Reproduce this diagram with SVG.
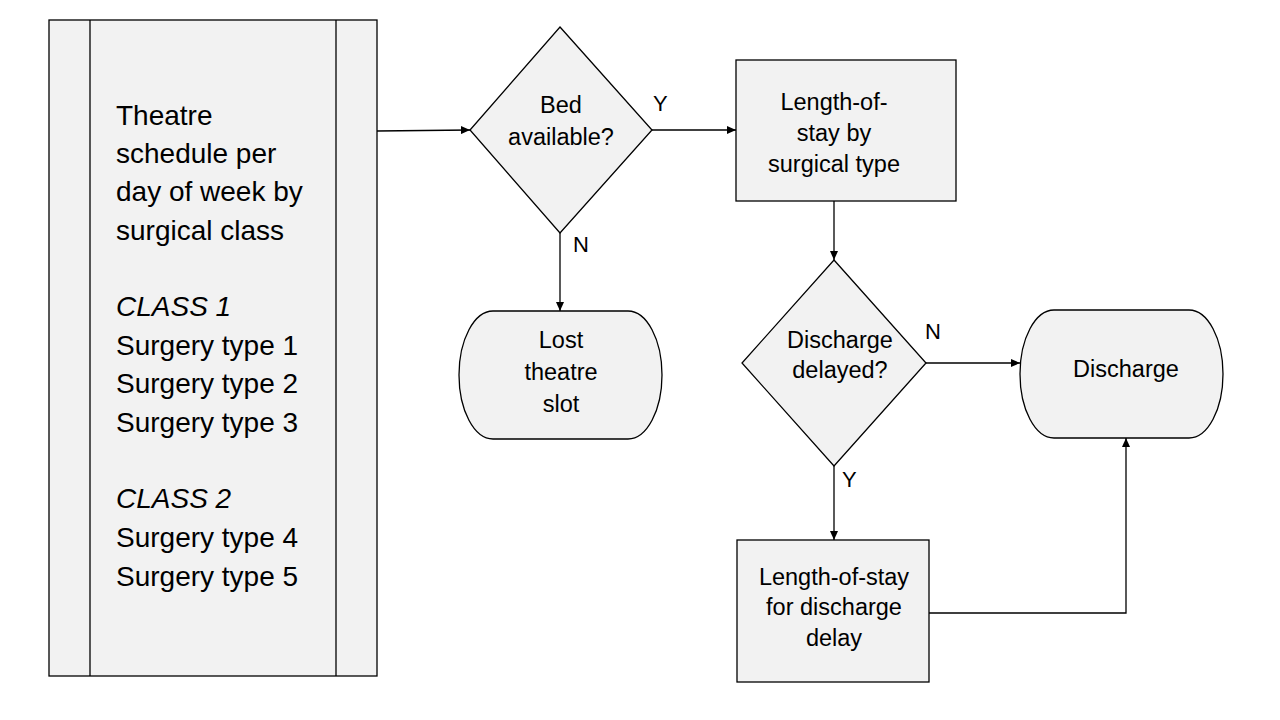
<svg xmlns="http://www.w3.org/2000/svg" width="1280" height="720" viewBox="0 0 1280 720">
<defs>
<marker id="arr" markerWidth="10" markerHeight="8" refX="9" refY="4" orient="auto" markerUnits="userSpaceOnUse">
<path d="M0,0 L9,4 L0,8 Z" fill="#000"/>
</marker>
<style>
.shape{fill:#f2f2f2;stroke:#000;stroke-width:1.3}
.ln{fill:none;stroke:#000;stroke-width:1.3}
.t{font-family:"Liberation Sans",Arial,sans-serif;font-size:23.5px;fill:#000;text-anchor:middle}
.big{font-family:"Liberation Sans",Arial,sans-serif;font-size:28px;fill:#000}
.lbl{font-family:"Liberation Sans",Arial,sans-serif;font-size:22px;fill:#000}
</style>
</defs>
<rect width="1280" height="720" fill="#fff"/>
<g id="schedule">
<rect class="shape" x="49" y="20" width="328" height="656"/>
<line class="ln" x1="90" y1="20" x2="90" y2="676"/>
<line class="ln" x1="336" y1="20" x2="336" y2="676"/>
<text class="big" x="116" y="125">Theatre</text>
<text class="big" x="116" y="163">schedule per</text>
<text class="big" x="116" y="201">day of week by</text>
<text class="big" x="116" y="240">surgical class</text>
<text class="big" x="116" y="316" font-style="italic">CLASS 1</text>
<text class="big" x="116" y="355">Surgery type 1</text>
<text class="big" x="116" y="393">Surgery type 2</text>
<text class="big" x="116" y="432">Surgery type 3</text>
<text class="big" x="116" y="508" font-style="italic">CLASS 2</text>
<text class="big" x="116" y="547">Surgery type 4</text>
<text class="big" x="116" y="586">Surgery type 5</text>
</g>
<g id="bed">
<polygon class="shape" points="560,27 652,130 560,233 470,130"/>
<text class="t" x="561" y="113">Bed</text>
<text class="t" x="561" y="145">available?</text>
</g>
<g id="los-type">
<rect class="shape" x="736" y="60" width="220" height="141"/>
<text class="t" x="834" y="110">Length-of-</text>
<text class="t" x="834" y="141">stay by</text>
<text class="t" x="834" y="172">surgical type</text>
</g>
<g id="lost">
<rect class="shape" x="459" y="311" width="203" height="128" rx="34" ry="64"/>
<text class="t" x="561" y="348">Lost</text>
<text class="t" x="561" y="380">theatre</text>
<text class="t" x="561" y="412">slot</text>
</g>
<g id="delayed">
<polygon class="shape" points="834,260 926,363 834,466 742,363"/>
<text class="t" x="840" y="348">Discharge</text>
<text class="t" x="840" y="378">delayed?</text>
</g>
<g id="discharge">
<rect class="shape" x="1020" y="310" width="203" height="128" rx="34" ry="64"/>
<text class="t" x="1126" y="377">Discharge</text>
</g>
<g id="los-delay">
<rect class="shape" x="737" y="540" width="192" height="142"/>
<text class="t" x="834" y="585">Length-of-stay</text>
<text class="t" x="834" y="615">for discharge</text>
<text class="t" x="834" y="646">delay</text>
</g>
<g id="connectors">
<line class="ln" x1="377" y1="131" x2="470" y2="130" marker-end="url(#arr)"/>
<line class="ln" x1="652" y1="130" x2="736" y2="130" marker-end="url(#arr)"/>
<line class="ln" x1="560" y1="233" x2="560" y2="311" marker-end="url(#arr)"/>
<line class="ln" x1="834" y1="201" x2="834" y2="260" marker-end="url(#arr)"/>
<line class="ln" x1="926" y1="363" x2="1020" y2="363" marker-end="url(#arr)"/>
<line class="ln" x1="834" y1="466" x2="834" y2="540" marker-end="url(#arr)"/>
<polyline class="ln" points="929,613 1126,613 1126,438" marker-end="url(#arr)"/>
<text class="lbl" x="653" y="111">Y</text>
<text class="lbl" x="573" y="252">N</text>
<text class="lbl" x="925" y="339">N</text>
<text class="lbl" x="842" y="487">Y</text>
</g>
</svg>
